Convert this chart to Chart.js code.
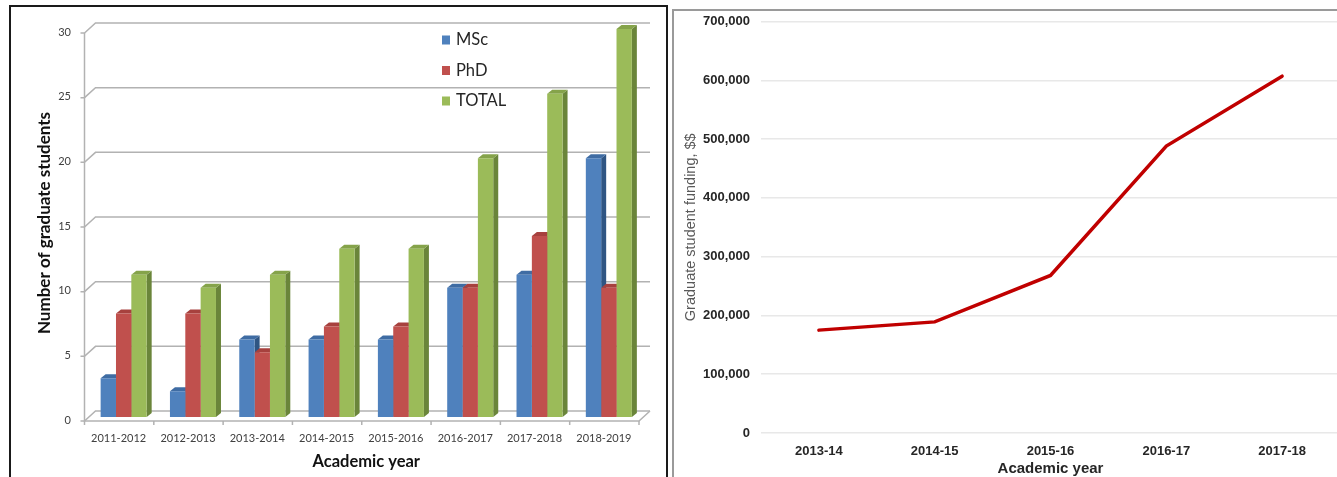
<!DOCTYPE html>
<html>
<head>
<meta charset="utf-8">
<title>Graduate students and funding</title>
<script src="https://cdn.jsdelivr.net/npm/chart.js@4.4.1/dist/chart.umd.min.js"></script>
<style>
  html, body { margin: 0; padding: 0; background: #fff; overflow: hidden; }
  body { width: 1337px; height: 477px; position: relative; }
  #left-frame { position: absolute; left: 9px; top: 5px; width: 655px; height: 480px; border: 2px solid #1a1a1a; }
  #right-frame { position: absolute; left: 672px; top: 9px; width: 700px; height: 480px; border-left: 2px solid #9a9a9a; border-top: 2px solid #9a9a9a; }
  #students { position: absolute; left: 0; top: 0; }
  #funding { position: absolute; left: 674px; top: 0; }
</style>
</head>
<body>
<div id="left-frame"></div>
<div id="right-frame"></div>
<canvas id="students" width="668" height="477"></canvas>
<canvas id="funding" width="670" height="478"></canvas>
<script>
// graduate student counts per academic year
const years = ["2011-2012", "2012-2013", "2013-2014", "2014-2015", "2015-2016", "2016-2017", "2017-2018", "2018-2019"];
const mscCounts = [3, 2, 6, 6, 6, 10, 11, 20];
const phdCounts = [8, 8, 5, 7, 7, 10, 14, 10];
const totalCounts = [11, 10, 11, 13, 13, 20, 25, 30];
const countTicks = [0, 5, 10, 15, 20, 25, 30];

// graduate student funding
const fundingYears = ["2013-14", "2014-15", "2015-16", "2016-17", "2017-18"];
const funding = [175000, 189000, 268000, 488000, 607000];
const fundingTicks = [0, 100000, 200000, 300000, 400000, 500000, 600000, 700000];

// fake 3d: bar depth and wall offsets (front edge / back wall)
const DX = 5, DY = 4;
const WALL = { fx: -4.5, fy: 4, bx: 6.5, by: -6 };
const LEGEND = { left: 442, top: 40, gap: 30.5 };

function poly(ctx, pts) {
  ctx.beginPath();
  ctx.moveTo(pts[0][0], pts[0][1]);
  for (let i = 1; i < pts.length; i++) ctx.lineTo(pts[i][0], pts[i][1]);
  ctx.closePath();
  ctx.fill();
}

const wallsAndDepth = {
  id: "wallsAndDepth",
  beforeDatasetsDraw(chart) {
    const { ctx, chartArea: a, scales: { y } } = chart;
    ctx.save();
    ctx.strokeStyle = "#b2b2b2";
    ctx.lineWidth = 1.5;

    // gridlines on the back wall + side wall diagonals
    y.ticks.forEach((t) => {
      const py = y.getPixelForValue(t.value);
      ctx.beginPath();
      ctx.moveTo(a.left + WALL.fx - 4, py + WALL.fy);
      ctx.lineTo(a.left + WALL.fx, py + WALL.fy);
      ctx.lineTo(a.left + WALL.bx, py + WALL.by);
      ctx.lineTo(a.right + WALL.bx, py + WALL.by);
      ctx.stroke();
    });

    // front vertical axis
    const y0 = y.getPixelForValue(0);
    const yMax = y.getPixelForValue(countTicks[countTicks.length - 1]);
    ctx.beginPath();
    ctx.moveTo(a.left + WALL.fx, yMax + WALL.fy);
    ctx.lineTo(a.left + WALL.fx, y0 + WALL.fy);
    // floor front edge and right corner
    ctx.lineTo(a.right + WALL.fx, y0 + WALL.fy);
    ctx.lineTo(a.right + WALL.bx, y0 + WALL.by);
    ctx.stroke();

    // category tick marks under the floor
    const step = (a.right - a.left) / years.length;
    ctx.beginPath();
    for (let i = 0; i <= years.length; i++) {
      const px = a.left + WALL.fx + i * step;
      ctx.moveTo(px, y0 + WALL.fy);
      ctx.lineTo(px, y0 + WALL.fy + 4);
    }
    ctx.stroke();

    // side and top faces, left to right so nearer faces cover farther ones
    for (let i = 0; i < years.length; i++) {
      chart.data.datasets.forEach((ds, d) => {
        const bar = chart.getDatasetMeta(d).data[i];
        const { x: cx, y: top, width: w, base } = bar.getProps(["x", "y", "width", "base"], true);
        const l = cx - w / 2, r = cx + w / 2;
        ctx.fillStyle = ds.sideColor;
        poly(ctx, [[r, top], [r + DX, top - DY], [r + DX, base - DY], [r, base]]);
        ctx.fillStyle = ds.topColor;
        poly(ctx, [[l, top], [r, top], [r + DX, top - DY], [l + DX, top - DY]]);
      });
    }
    ctx.restore();
  },
};

const legendBox = {
  id: "legendBox",
  afterDraw(chart) {
    const { ctx } = chart;
    ctx.save();
    ctx.font = "16.5px Lato";
    ctx.textBaseline = "middle";
    chart.data.datasets.forEach((ds, i) => {
      const ly = LEGEND.top + i * LEGEND.gap;
      ctx.fillStyle = ds.backgroundColor;
      ctx.fillRect(LEGEND.left, ly - 4.5, 8, 9);
      ctx.fillStyle = "#262626";
      ctx.fillText(ds.label, LEGEND.left + 14, ly);
    });
    ctx.restore();
  },
};

new Chart(document.getElementById("students"), {
  type: "bar",
  data: {
    labels: years,
    datasets: [
      { label: "MSc", data: mscCounts, backgroundColor: "#4f81bd", topColor: "#3f6ca3", sideColor: "#2f5583" },
      { label: "PhD", data: phdCounts, backgroundColor: "#c0504d", topColor: "#a7413e", sideColor: "#8a3533" },
      { label: "TOTAL", data: totalCounts, backgroundColor: "#9bbb59", topColor: "#85a34a", sideColor: "#6a853a" },
    ],
  },
  options: {
    responsive: false,
    animation: false,
    devicePixelRatio: 1,
    layout: { padding: { left: 0, top: 29, right: 24.5, bottom: 0 } },
    datasets: { bar: { categoryPercentage: 0.664, barPercentage: 1, borderWidth: 0 } },
    scales: {
      x: {
        grid: { display: false, drawTicks: false },
        border: { display: false },
        ticks: { font: { family: "Lato", size: 11 }, color: "#404040", padding: 15, labelOffset: -5, maxRotation: 0, autoSkip: false },
        title: { display: true, text: "Academic year", font: { family: "Lato", size: 16.5, weight: "bold" }, color: "#111", padding: { top: 0, bottom: 5 } },
        afterFit: (s) => { s.height = 60; },
      },
      y: {
        min: 0,
        max: 30,
        grid: { display: false, drawTicks: false },
        border: { display: false },
        afterBuildTicks: (s) => { s.ticks = countTicks.map((v) => ({ value: v })); },
        ticks: { font: { family: "Lato", size: 11 }, color: "#404040", padding: 18, labelOffset: 3 },
        title: { display: true, text: "Number of graduate students", font: { family: "Lato", size: 17, weight: "bold" }, color: "#111", padding: { top: 34, bottom: 0 } },
        afterFit: (s) => { s.width = 89; },
      },
    },
    plugins: { legend: { display: false }, tooltip: { enabled: false } },
  },
  plugins: [wallsAndDepth, legendBox],
});

new Chart(document.getElementById("funding"), {
  type: "line",
  data: {
    labels: fundingYears,
    datasets: [{ label: "Funding", data: funding, borderColor: "#c00000", borderWidth: 3.5, pointRadius: 0, tension: 0, borderCapStyle: "round" }],
  },
  options: {
    responsive: false,
    animation: false,
    devicePixelRatio: 1,
    layout: { padding: { left: 0, top: 21.5, right: 4, bottom: 0 } },
    scales: {
      x: {
        offset: true,
        grid: { display: false, drawTicks: false },
        border: { display: false },
        ticks: { font: { family: "Liberation Sans", size: 13, weight: "bold" }, color: "#262626", padding: 11, maxRotation: 0 },
        title: { display: true, text: "Academic year", font: { family: "Liberation Sans", size: 15, weight: "bold" }, color: "#262626", padding: { top: 0, bottom: 0 } },
        afterFit: (s) => { s.height = 45; },
      },
      y: {
        min: 0,
        max: 700000,
        grid: { color: "#e8e8e8", lineWidth: 1.5, drawTicks: false },
        border: { display: false },
        afterBuildTicks: (s) => { s.ticks = fundingTicks.map((v) => ({ value: v })); },
        ticks: { font: { family: "Liberation Sans", size: 13, weight: "bold" }, color: "#262626", padding: 11, callback: (v) => v.toLocaleString("en-US") },
        title: { display: true, text: "Graduate student funding, $$", font: { family: "Liberation Sans", size: 14.5 }, color: "#595959", padding: { top: 8, bottom: 0 } },
        afterFit: (s) => { s.width = 87; },
      },
    },
    plugins: { legend: { display: false }, tooltip: { enabled: false } },
  },
});
</script>
</body>
</html>
